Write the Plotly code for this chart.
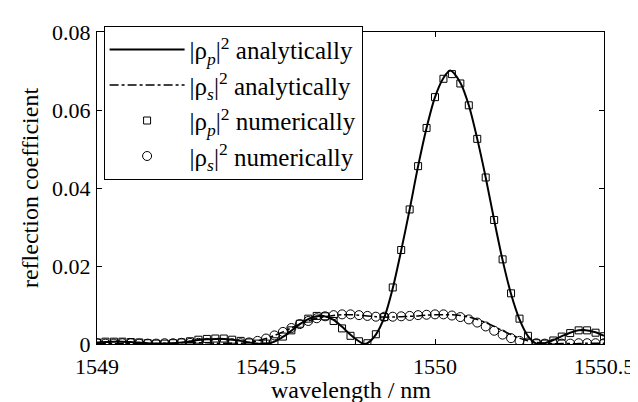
import plotly.graph_objects as go

# wavelength grid of the numerical samples (nm)
wl_num = [1549.000, 1549.025, 1549.050, 1549.075, 1549.100, 1549.125, 1549.150, 1549.175,
          1549.200, 1549.225, 1549.250, 1549.275, 1549.300, 1549.325, 1549.350, 1549.375,
          1549.400, 1549.425, 1549.450, 1549.475, 1549.500, 1549.525, 1549.550, 1549.575,
          1549.600, 1549.625, 1549.650, 1549.675, 1549.700, 1549.725, 1549.750, 1549.775,
          1549.800, 1549.825, 1549.850, 1549.875, 1549.900, 1549.925, 1549.950, 1549.975,
          1550.000, 1550.025, 1550.050, 1550.075, 1550.100, 1550.125, 1550.150, 1550.175,
          1550.200, 1550.225, 1550.250, 1550.275, 1550.300, 1550.325, 1550.350, 1550.375,
          1550.400, 1550.425, 1550.450, 1550.475, 1550.500]

rho_p_num = [0.0004, 0.0006, 0.0006, 0.0006, 0.0005, 0.0004, 0.0002, 0.0001,
             0.0001, 0.0002, 0.0004, 0.0007, 0.0011, 0.0013, 0.0014, 0.0014,
             0.0011, 0.0008, 0.0004, 0.0001, 0.0001, 0.0007, 0.0019, 0.0035,
             0.0052, 0.0065, 0.0072, 0.0071, 0.0059, 0.0040, 0.0021, 0.0007,
             0.0002, 0.0025, 0.0069, 0.0145, 0.0241, 0.0345, 0.0456, 0.0554,
             0.0633, 0.0680, 0.0692, 0.0668, 0.0612, 0.0526, 0.0427, 0.0318,
             0.0217, 0.0130, 0.0065, 0.0021, 0.0002, 0.0001, 0.0009, 0.0019,
             0.0028, 0.0035, 0.0035, 0.0029, 0.0020]

rho_s_num = [0.0002, 0.0001, 0.0001, 0.0002, 0.0002, 0.0001, 0.0001, 0.0001,
             0.0002, 0.0002, 0.0003, 0.0003, 0.0003, 0.0003, 0.0002, 0.0002,
             0.0002, 0.0002, 0.0004, 0.0008, 0.0014, 0.0022, 0.0031, 0.0041,
             0.0051, 0.0059, 0.0066, 0.0071, 0.0074, 0.0076, 0.0076, 0.0074,
             0.0072, 0.0070, 0.0070, 0.0070, 0.0071, 0.0072, 0.0074, 0.0075,
             0.0076, 0.0076, 0.0073, 0.0069, 0.0063, 0.0055, 0.0045, 0.0034,
             0.0024, 0.0015, 0.0008, 0.0004, 0.0002, 0.0001, 0.0001, 0.0001,
             0.0001, 0.0002, 0.0002, 0.0002, 0.0002]

# analytical curves
wl_ana_p = [1549.000, 1549.025, 1549.050, 1549.075, 1549.100, 1549.125, 1549.150, 1549.175,
            1549.200, 1549.225, 1549.250, 1549.275, 1549.300, 1549.325, 1549.350, 1549.375,
            1549.400, 1549.425, 1549.450, 1549.475, 1549.500, 1549.525, 1549.550, 1549.575,
            1549.600, 1549.625, 1549.650, 1549.670, 1549.700, 1549.725, 1549.750, 1549.775,
            1549.790, 1549.800, 1549.825, 1549.850, 1549.875, 1549.900, 1549.925, 1549.950,
            1549.975, 1550.000, 1550.025, 1550.045, 1550.075, 1550.100, 1550.125, 1550.150,
            1550.175, 1550.200, 1550.225, 1550.250, 1550.275, 1550.300, 1550.325, 1550.350,
            1550.375, 1550.400, 1550.425, 1550.440, 1550.475, 1550.500]
rho_p_ana = [0.0004, 0.0005, 0.0006, 0.0006, 0.0005, 0.0004, 0.0002, 0.0001,
             0.0001, 0.0002, 0.0004, 0.0007, 0.0010, 0.0012, 0.0013, 0.0013,
             0.0011, 0.0008, 0.0004, 0.0001, 0.0000, 0.0006, 0.0018, 0.0034,
             0.0051, 0.0064, 0.0071, 0.0072, 0.0062, 0.0044, 0.0024, 0.0007,
             0.0000, 0.0002, 0.0024, 0.0068, 0.0143, 0.0240, 0.0345, 0.0456,
             0.0554, 0.0633, 0.0682, 0.0701, 0.0670, 0.0612, 0.0526, 0.0427,
             0.0318, 0.0215, 0.0128, 0.0063, 0.0020, 0.0001, 0.0002, 0.0010,
             0.0020, 0.0029, 0.0035, 0.0036, 0.0030, 0.0021]

rho_s_ana = [0.0002, 0.0001, 0.0001, 0.0002, 0.0002, 0.0001, 0.0001, 0.0001,
             0.0002, 0.0002, 0.0003, 0.0003, 0.0003, 0.0003, 0.0002, 0.0002,
             0.0002, 0.0002, 0.0004, 0.0008, 0.0014, 0.0022, 0.0031, 0.0041,
             0.0051, 0.0059, 0.0066, 0.0070, 0.0073, 0.0075, 0.0075, 0.0074,
             0.0072, 0.0070, 0.0069, 0.0069, 0.0070, 0.0071, 0.0072, 0.0074,
             0.0075, 0.0075, 0.0075, 0.0073, 0.0069, 0.0063, 0.0055, 0.0045,
             0.0034, 0.0024, 0.0015, 0.0008, 0.0004, 0.0002, 0.0001, 0.0001,
             0.0001, 0.0001, 0.0002, 0.0002, 0.0002]

x_ticks = [1549, 1549.5, 1550, 1550.5]
x_tick_labels = ["1549", "1549.5", "1550", "1550.5"]
y_ticks = [0, 0.02, 0.04, 0.06, 0.08]
y_tick_labels = ["0", "0.02", "0.04", "0.06", "0.08"]
x_title = "wavelength / nm"
y_title = "reflection coefficient"

FONT = "Liberation Serif"

fig = go.Figure()
fig.add_trace(go.Scatter(
    x=wl_ana_p, y=rho_p_ana, mode="lines", line=dict(color="black", width=2, shape="spline", smoothing=0.8),
    name="|ρ<sub><i>p</i></sub>|<sup>2</sup> analytically"))
fig.add_trace(go.Scatter(
    x=wl_num, y=rho_s_ana, mode="lines", line=dict(color="black", width=1.5, dash="dashdot", shape="spline", smoothing=0.8),
    name="|ρ<sub><i>s</i></sub>|<sup>2</sup> analytically"))
fig.add_trace(go.Scatter(
    x=wl_num, y=rho_p_num, mode="markers",
    marker=dict(symbol="square-open", size=7, color="black", line=dict(width=1)),
    name="|ρ<sub><i>p</i></sub>|<sup>2</sup> numerically"))
fig.add_trace(go.Scatter(
    x=wl_num, y=rho_s_num, mode="markers",
    marker=dict(symbol="circle-open", size=9, color="black", line=dict(width=1)),
    name="|ρ<sub><i>s</i></sub>|<sup>2</sup> numerically"))

axis_common = dict(showline=True, linecolor="black", linewidth=1, mirror="ticks",
                   ticks="inside", ticklen=5, tickcolor="black", showgrid=False, zeroline=False,
                   tickfont=dict(family=FONT, size=22, color="black"))

fig.update_layout(
    width=638, height=402,
    margin=dict(l=89, r=35, t=18, b=66),
    paper_bgcolor="white", plot_bgcolor="white",
    font=dict(family=FONT, color="black"),
    xaxis=dict(range=[1549, 1550.5], tickvals=x_ticks, ticktext=x_tick_labels,
               ticklabelstandoff=3, **axis_common),
    yaxis=dict(range=[0, 0.08], tickvals=y_ticks, ticktext=y_tick_labels,
               ticklabelstandoff=1,
               title=dict(text=y_title, font=dict(family=FONT, size=24), standoff=6),
               **axis_common),
    legend=dict(x=0.013, y=1.02, xanchor="left", yanchor="top",
                bgcolor="white", bordercolor="black", borderwidth=1,
                font=dict(family=FONT, size=25, color="black"),
                itemwidth=75, tracegroupgap=0),
    showlegend=True,
    annotations=[dict(text=x_title, xref="paper", yref="paper", x=0.5, y=-0.148,
                      xanchor="center", yanchor="middle", showarrow=False,
                      font=dict(family=FONT, size=24, color="black"))],
)

fig.write_html("out.html")
